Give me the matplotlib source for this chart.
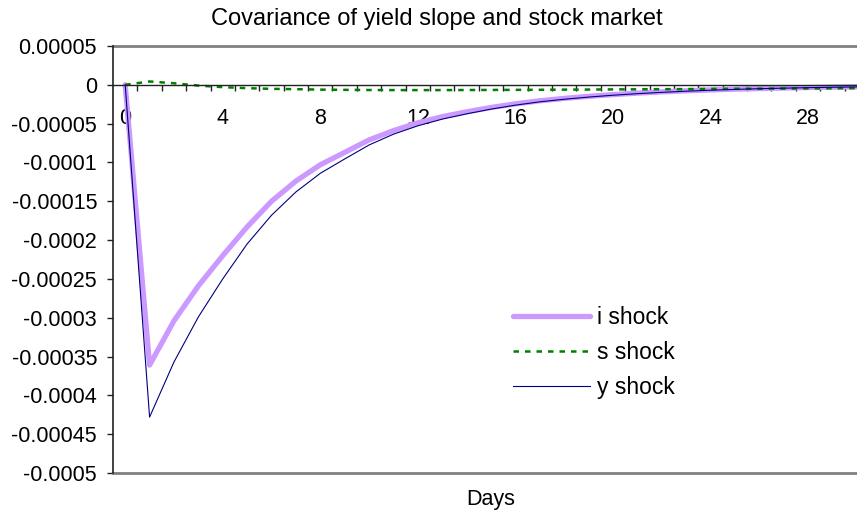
import matplotlib
matplotlib.use("Agg")
import matplotlib.pyplot as plt
import numpy as np

plt.rcParams['font.family'] = ['Liberation Sans', 'DejaVu Sans']

# --- data ---
days = list(range(31))
i_shock = [0, -0.000361, -0.000304, -0.000259, -0.000220, -0.000183, -0.000150,
           -0.000124, -0.000103, -0.000087, -0.000071, -0.000059, -0.0000490,
           -0.0000410, -0.0000348, -0.0000292, -0.0000245, -0.0000206, -0.0000175,
           -0.0000148, -0.0000126, -0.0000107, -0.0000091, -0.0000077, -0.0000066,
           -0.0000056, -0.0000048, -0.0000041, -0.0000035, -0.0000030, -0.0000026]
s_shock = [0, 0.0000043, 0.0000020, -0.0000010, -0.0000030, -0.0000043, -0.0000052,
           -0.0000056, -0.0000062, -0.0000065, -0.0000067, -0.0000068, -0.0000068,
           -0.0000068, -0.0000067, -0.0000066, -0.0000065, -0.0000064, -0.0000062,
           -0.0000061, -0.0000059, -0.0000058, -0.0000056, -0.0000055, -0.0000053,
           -0.0000051, -0.0000050, -0.0000048, -0.0000046, -0.0000045, -0.0000044]
y_shock = [0, -0.000428, -0.000357, -0.000299, -0.000250, -0.000205, -0.000168,
           -0.000138, -0.000114, -0.0000955, -0.0000775, -0.0000636, -0.0000528,
           -0.0000442, -0.0000374, -0.0000313, -0.0000262, -0.0000219, -0.0000186,
           -0.0000158, -0.0000134, -0.0000114, -0.0000097, -0.0000082, -0.0000070,
           -0.0000059, -0.0000050, -0.0000043, -0.0000037, -0.0000031, -0.0000027]

y_ticks = [0.00005, 0, -0.00005, -0.0001, -0.00015, -0.0002, -0.00025,
           -0.0003, -0.00035, -0.0004, -0.00045, -0.0005]
y_labels = ["0.00005", "0", "-0.00005", "-0.0001", "-0.00015", "-0.0002", "-0.00025",
            "-0.0003", "-0.00035", "-0.0004", "-0.00045", "-0.0005"]
x_labels = [0, 4, 8, 12, 16, 20, 24, 28]

fig = plt.figure(figsize=(8.57, 5.17), dpi=100)
W, H = 857, 517
x0, x1 = 113, 869
ytop, ybot = 46, 473
ax = fig.add_axes([x0 / W, 1 - ybot / H, (x1 - x0) / W, (ybot - ytop) / H])

ax.plot(days, i_shock, color="#cc99ff", linewidth=3.8, solid_capstyle="round",
        solid_joinstyle="round", label="i shock")
ax.plot(days, s_shock, color="#008000", linewidth=1.8, linestyle=(0, (2.2, 2.4)),
        label="s shock")
ax.plot(days, y_shock, color="#000080", linewidth=0.8, label="y shock")

ax.set_xlim(-0.5, 30.5)
ax.set_ylim(-0.0005, 0.00005)

# frame: gray top/bottom, black left, category axis at zero
for side in ["top", "right"]:
    ax.spines[side].set_visible(False)
ax.spines["left"].set_color("#222222")
ax.spines["left"].set_linewidth(1.2)
ax.spines["bottom"].set_position(("data", 0))
ax.spines["bottom"].set_color("#222222")
ax.spines["bottom"].set_linewidth(1.0)
ax.axhline(0.00005, color="#808080", linewidth=2, clip_on=False)
ax.axhline(-0.0005, color="#808080", linewidth=2, clip_on=False)

ax.set_yticks(y_ticks)
ax.set_yticklabels(y_labels)
ax.tick_params(axis="y", direction="out", length=4.5, width=1, color="#222222",
               labelsize=15.5, pad=7)

ax.set_xticks(x_labels)
ax.set_xticklabels([str(v) for v in x_labels])
ax.set_xticks(np.arange(0.5, 30.5, 1), minor=True)
ax.tick_params(axis="x", which="major", length=0, labelsize=15.5, pad=17)
ax.tick_params(axis="x", which="minor", direction="out", length=4.5, width=1,
               color="#222222")

fig.text(437 / W, 1 - 19 / H, "Covariance of yield slope and stock market",
         ha="center", va="center", fontsize=17)
fig.text(491 / W, 1 - 500 / H, "Days", ha="center", va="center", fontsize=15.5)

ax.legend(loc="upper left", bbox_to_anchor=(513 / W, 1 - 306 / H),
          bbox_transform=fig.transFigure, frameon=False, fontsize=16.5,
          handlelength=3.35, handletextpad=0.3, labelspacing=0.52,
          borderpad=0, borderaxespad=0)

fig.savefig("out.png", dpi=100)
